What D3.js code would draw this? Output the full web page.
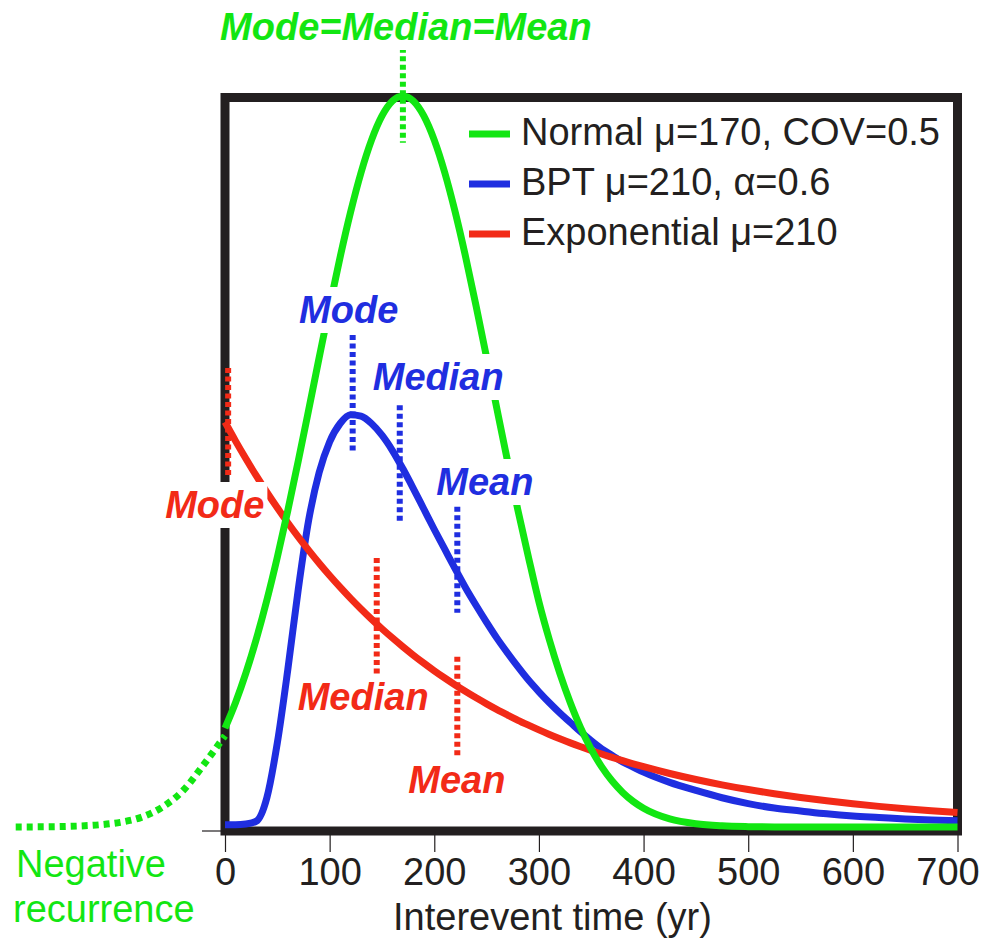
<!DOCTYPE html>
<html>
<head>
<meta charset="utf-8">
<script src="https://cdn.jsdelivr.net/npm/d3@7"></script>
<style>
  body { margin: 0; background: #fff; }
  svg text { font-family: "Liberation Sans", Arial, Helvetica, sans-serif; }
</style>
</head>
<body>
<svg id="chart"></svg>
<script>
// interevent time (yr) and relative density
const years = [0, 10, 20, 30, 40, 50, 60, 70, 80, 90, 100, 110, 120, 130, 140, 150, 160, 170, 180, 190,
    200, 210, 220, 230, 240, 250, 260, 270, 280, 290, 300, 310, 320, 330, 340, 350, 360, 370, 380, 390,
    400, 425, 450, 475, 500, 525, 550, 575, 600, 625, 650, 675, 700];

const normalValues = [0.1353, 0.1701, 0.2108, 0.2576, 0.3105, 0.3691, 0.4328, 0.5006, 0.5709, 0.6422,
    0.7124, 0.7795, 0.8411, 0.8952, 0.9396, 0.9727, 0.9931, 1.0, 0.9931, 0.9727,
    0.9396, 0.8952, 0.8411, 0.7795, 0.7124, 0.6422, 0.5709, 0.5006, 0.4328, 0.3691,
    0.3080, 0.2560, 0.2100, 0.1701, 0.1353, 0.1063, 0.0822, 0.0628, 0.0473, 0.0351,
    0.0257, 0.0111, 0.0044, 0.0016, 0.0005, 0.0001, 0, 0, 0, 0, 0, 0, 0];

const bptValues = [0.003, 0.003, 0.004, 0.008, 0.04, 0.115, 0.215, 0.325, 0.42, 0.485,
    0.527, 0.552, 0.564, 0.562, 0.552, 0.536, 0.515, 0.49, 0.463, 0.435,
    0.407, 0.38, 0.353, 0.327, 0.303, 0.28, 0.258, 0.238, 0.219, 0.201,
    0.185, 0.17, 0.156, 0.143, 0.13, 0.118, 0.107, 0.098, 0.089, 0.082,
    0.075, 0.061, 0.05, 0.04, 0.032, 0.026, 0.022, 0.018, 0.015, 0.013, 0.011, 0.0095, 0.0085];

const expValues = [0.554, 0.5282, 0.5037, 0.4802, 0.4579, 0.4366, 0.4163, 0.3969, 0.3785, 0.3609,
    0.3441, 0.3281, 0.3128, 0.2983, 0.2844, 0.2712, 0.2586, 0.2466, 0.2351, 0.2242,
    0.2137, 0.2038, 0.1943, 0.1853, 0.1767, 0.1685, 0.1606, 0.1532, 0.1460, 0.1393,
    0.1328, 0.1266, 0.1207, 0.1151, 0.1098, 0.1047, 0.0998, 0.0952, 0.0907, 0.0865,
    0.0825, 0.0732, 0.0650, 0.0577, 0.0512, 0.0455, 0.0404, 0.0358, 0.0318, 0.0282, 0.0251, 0.0223, 0.0198];

// negative-time tail of the normal curve (dotted)
const negYears = [-200, -180, -160, -140, -120, -100, -80, -60, -40, -20, 0];
const negValues = [0, 0.0002, 0.0005, 0.0013, 0.003, 0.0064, 0.0132, 0.027, 0.05, 0.086, 0.125];

const xTicks = [0, 100, 200, 300, 400, 500, 600, 700];

const seriesNames = ['Normal \u03bc=170, COV=0.5', 'BPT \u03bc=210, \u03b1=0.6', 'Exponential \u03bc=210'];
const green = '#12e612';
const blue = '#1f2ee0';
const red = '#f22a17';
const ink = '#231f20';

// mode / median / mean markers: year, top and bottom of the dotted mark
const statNames = ['Mode', 'Median', 'Mean'];
const bptStatYears = [122, 167, 222];
const bptStatTop = [0.673, 0.577, 0.438];
const bptStatBottom = [0.512, 0.417, 0.293];
const expStatYears = [3, 145, 222];
const expStatTop = [0.628, 0.368, 0.233];
const expStatBottom = [0.479, 0.205, 0.089];
const normalStatYear = 170;
const normalStatTop = 1.066;
const normalStatBottom = 0.936;

const width = 987;
const height = 943;

const svg = d3.select('#chart')
    .attr('width', width)
    .attr('height', height);

const xScale = d3.scaleLinear()
    .domain([0, 700])
    .range([225, 957.5]);

const yScale = d3.scaleLinear()
    .domain([0, 1])
    .range([827, 96]);

// frame
svg.append('rect')
    .attr('x', xScale(0))
    .attr('y', 97.5)
    .attr('width', xScale(700) - xScale(0))
    .attr('height', 831 - 97.5)
    .attr('fill', 'none')
    .attr('stroke', ink)
    .attr('stroke-width', 9);

// axis
svg.append('line')
    .attr('x1', xScale(-22))
    .attr('x2', xScale(0))
    .attr('y1', 831)
    .attr('y2', 831)
    .attr('stroke', ink)
    .attr('stroke-width', 1.2);

const xAxis = d3.axisBottom(xScale)
    .tickValues(xTicks)
    .tickSize(21)
    .tickPadding(6)
    .tickFormat(d3.format('d'));

const axisG = svg.append('g')
    .attr('transform', 'translate(0,831)')
    .call(xAxis);
axisG.select('.domain').remove();
axisG.selectAll('.tick line').attr('stroke', ink).attr('stroke-width', 1.2);
axisG.selectAll('.tick text')
    .attr('fill', ink)
    .attr('dx', d => d === 700 ? -10 : 0)
    .style('font-size', '38px')
    .style('font-family', '"Liberation Sans", Arial, sans-serif');

svg.append('text')
    .attr('x', 393)
    .attr('y', 930)
    .attr('fill', ink)
    .style('font-size', '38px')
    .text('Interevent time (yr)');

// curves
const line = d3.line()
    .x(d => xScale(d[0]))
    .y(d => yScale(d[1]))
    .curve(d3.curveMonotoneX);

svg.append('path')
    .datum(d3.zip(negYears, negValues))
    .attr('d', line)
    .attr('fill', 'none')
    .attr('stroke', green)
    .attr('stroke-width', 7)
    .attr('stroke-dasharray', '6,5');

const drawCurve = (values, color) => {
    svg.append('path')
        .datum(d3.zip(years, values))
        .attr('d', line)
        .attr('fill', 'none')
        .attr('stroke', color)
        .attr('stroke-width', 7)
        .attr('stroke-linejoin', 'round');
};

drawCurve(bptValues, blue);
drawCurve(expValues, red);
drawCurve(normalValues, green);

// dotted statistic marks
const drawMark = (t, top, bottom, color) => {
    svg.append('line')
        .attr('x1', xScale(t))
        .attr('x2', xScale(t))
        .attr('y1', yScale(top))
        .attr('y2', yScale(bottom))
        .attr('stroke', color)
        .attr('stroke-width', 6)
        .attr('stroke-dasharray', '5,3.5');
};

drawMark(normalStatYear, normalStatTop, normalStatBottom, green);
bptStatYears.forEach((t, i) => drawMark(t, bptStatTop[i], bptStatBottom[i], blue));
expStatYears.forEach((t, i) => drawMark(t, expStatTop[i], expStatBottom[i], red));

// labels, each on a white patch
const addLabel = (text, color, x, y, anchor) => {
    const g = svg.append('g');
    const t = g.append('text')
        .attr('x', x)
        .attr('y', y)
        .attr('text-anchor', anchor)
        .attr('fill', color)
        .style('font-size', '38px')
        .style('font-weight', 'bold')
        .style('font-style', 'italic')
        .text(text);
    const b = t.node().getBBox();
    g.insert('rect', 'text')
        .attr('x', b.x - 3)
        .attr('y', b.y - 2)
        .attr('width', b.width + 6)
        .attr('height', b.height + 4)
        .attr('fill', '#fff');
};

addLabel(statNames.join('='), green, xScale(normalStatYear) + 3, 40, 'middle');
addLabel(statNames[0], blue, xScale(bptStatYears[0]) - 4, 323, 'middle');
addLabel(statNames[1], blue, xScale(bptStatYears[1]) - 27, 390, 'start');
addLabel(statNames[2], blue, xScale(bptStatYears[2]) - 21, 495, 'start');
addLabel(statNames[0], red, xScale(expStatYears[0]) - 63, 518, 'start');
addLabel(statNames[1], red, xScale(expStatYears[1]) - 79, 710, 'start');
addLabel(statNames[2], red, xScale(expStatYears[2]) - 49, 793, 'start');

// negative recurrence note
svg.append('text')
    .attr('fill', green)
    .style('font-size', '38px')
    .selectAll('tspan')
    .data(['Negative', 'recurrence'])
    .enter()
    .append('tspan')
    .attr('x', (d, i) => i === 0 ? 16 : 13)
    .attr('y', (d, i) => 877 + i * 45)
    .text(d => d);

// legend
const legendColors = [green, blue, red];
const legend = svg.append('g');
seriesNames.forEach((name, i) => {
    const baseY = 145 + i * 50;
    legend.append('line')
        .attr('x1', 469)
        .attr('x2', 510)
        .attr('y1', baseY - 11)
        .attr('y2', baseY - 11)
        .attr('stroke', legendColors[i])
        .attr('stroke-width', 7);
    legend.append('text')
        .attr('x', 521)
        .attr('y', baseY)
        .attr('fill', ink)
        .style('font-size', '38px')
        .text(name);
});
</script>
</body>
</html>
